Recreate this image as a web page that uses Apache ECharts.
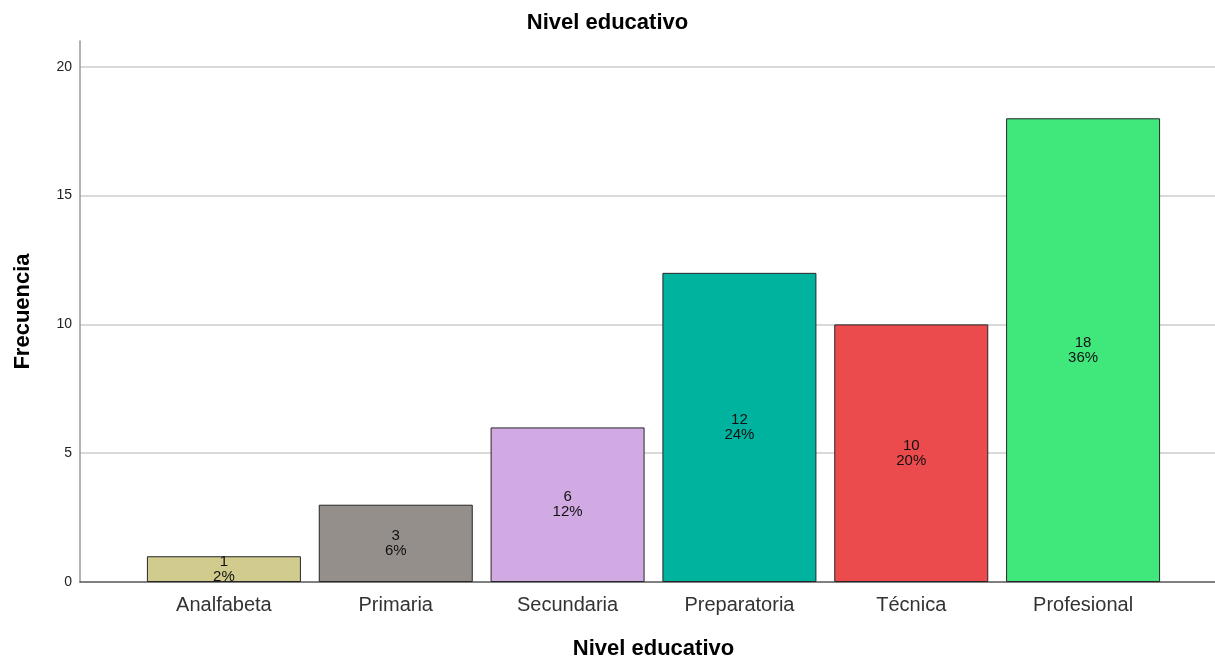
<!DOCTYPE html>
<html>
<head>
<meta charset="utf-8">
<script src="https://cdn.jsdelivr.net/npm/echarts@6/dist/echarts.min.js"></script>
<style>
  html, body { margin: 0; padding: 0; background: #fff; }
  #main { width: 1215px; height: 656px; }
</style>
</head>
<body>
<div id="main"></div>
<script>
// datos del gráfico
const categories = ['Analfabeta', 'Primaria', 'Secundaria', 'Preparatoria', 'Técnica', 'Profesional']
const frecuencias = [1, 3, 6, 12, 10, 18]
const porcentajes = [2, 6, 12, 24, 20, 36]
const barColors = ['#d2cb8e', '#948f8b', '#d1a9e3', '#00b39f', '#eb4b4c', '#40e87c']
const yTicks = [0, 5, 10, 15, 20]

const font = 'Liberation Sans, Arial, sans-serif'
const chart = echarts.init(document.getElementById('main'))

const option = {
  animation: false,
  title: {
    text: 'Nivel educativo',
    left: 'center',
    top: 7,
    textStyle: { fontFamily: font, fontSize: 22, fontWeight: 'bold', color: '#000' }
  },
  grid: [
    // marco con ejes y líneas de cuadrícula
    { left: 80, right: 0, top: 41, bottom: 74, outerBoundsMode: 'none' },
    // barras
    { left: 138, right: 46, top: 41, bottom: 74, outerBoundsMode: 'none' }
  ],
  xAxis: [
    {
      gridIndex: 0,
      type: 'value',
      min: 0,
      max: 1,
      axisLine: { show: true, onZero: false, lineStyle: { color: '#555', width: 1.5 } },
      axisTick: { show: false },
      axisLabel: { show: false },
      splitLine: { show: false }
    },
    {
      gridIndex: 1,
      type: 'category',
      data: categories,
      axisLine: { show: false },
      axisTick: { show: false },
      axisLabel: { fontFamily: font, fontSize: 20, color: '#333', margin: 13 },
      name: 'Nivel educativo',
      nameLocation: 'middle',
      nameGap: 56,
      nameTextStyle: { fontFamily: font, fontSize: 22, fontWeight: 'bold', color: '#000' }
    }
  ],
  yAxis: [
    {
      gridIndex: 0,
      type: 'value',
      min: 0,
      max: 21,
      interval: 5,
      axisLine: { show: true, lineStyle: { color: '#999', width: 1.5 } },
      axisTick: { show: false },
      axisLabel: {
        fontFamily: font,
        fontSize: 14,
        color: '#222',
        margin: 8,
        showMaxLabel: false,
        formatter: v => (yTicks.includes(v) ? String(v) : '')
      },
      splitLine: { show: true, showMaxLine: false, showMinLine: false, lineStyle: { color: '#ccc', width: 1.5 } },
      name: 'Frecuencia',
      nameLocation: 'middle',
      nameGap: 46,
      nameTextStyle: { fontFamily: font, fontSize: 22, fontWeight: 'bold', color: '#000' }
    },
    {
      gridIndex: 1,
      type: 'value',
      min: 0,
      max: 21,
      show: false
    }
  ],
  series: [
    {
      type: 'bar',
      xAxisIndex: 1,
      yAxisIndex: 1,
      barWidth: 154,
      data: frecuencias.map((v, i) => ({
        value: v,
        itemStyle: { color: barColors[i] }
      })),
      itemStyle: { borderColor: '#262626', borderWidth: 1 },
      label: {
        show: true,
        position: 'inside',
        fontFamily: font,
        fontSize: 15,
        lineHeight: 15,
        color: '#111',
        formatter: p => p.value + '\n' + porcentajes[p.dataIndex] + '%'
      }
    }
  ]
}

chart.setOption(option)
</script>
</body>
</html>
